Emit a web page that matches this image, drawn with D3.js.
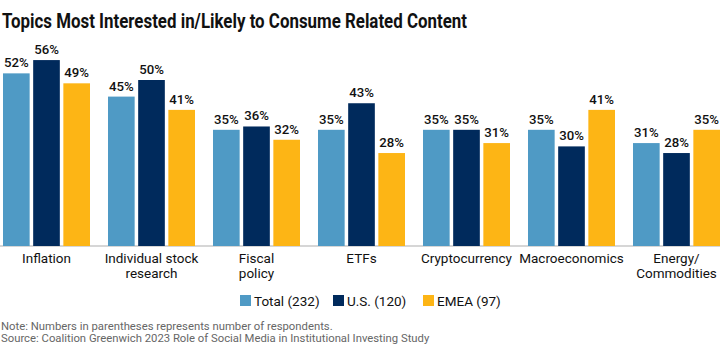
<!DOCTYPE html>
<html><head><meta charset="utf-8">
<script src="https://cdn.jsdelivr.net/npm/d3@7"></script>
<style>body{margin:0;background:#fff}svg{display:block}text{font-family:Roboto,"Noto Sans",sans-serif}</style>
</head><body><svg id="c" width="720" height="356"></svg>
<script>
const categories = [["Inflation"],["Individual stock","research"],["Fiscal","policy"],["ETFs"],["Cryptocurrency"],["Macroeconomics"],["Energy/","Commodities"]];
const seriesNames = ["Total (232)","U.S. (120)","EMEA (97)"];
const total = [52,45,35,35,35,35,31];
const us = [56,50,36,43,35,30,28];
const emea = [49,41,32,28,31,41,35];
const colors = ["#4f9ac5","#002a5c","#fdb515"];
const series = [total, us, emea];

const svg = d3.select("#c");
svg.append("text").attr("x",2).attr("y",28).attr("font-size",20.5).attr("font-weight",700)
  .attr("fill","#111").attr("textLength",465).attr("lengthAdjust","spacingAndGlyphs")
  .text("Topics Most Interested in/Likely to Consume Related Content");

const baseY = 246;
const y = d3.scaleLinear().domain([0,60]).range([baseY, baseY-199.2]);
const x0 = d3.scaleBand().domain(d3.range(categories.length)).range([3, 3+105*7-18]).paddingInner(18/105).paddingOuter(0);
const x1 = d3.scaleBand().domain(d3.range(3)).range([0, x0.bandwidth()]).paddingInner(3.5/30);

svg.append("line").attr("x1",0).attr("x2",720).attr("y1",baseY).attr("y2",baseY).attr("stroke","#c8c8c8").attr("stroke-width",1.5);

const g = svg.append("g");
categories.forEach((c,i)=>{
  series.forEach((s,j)=>{
    const v = s[i];
    g.append("rect").attr("x",x0(i)+x1(j)).attr("width",x1.bandwidth())
      .attr("y",y(v)).attr("height",baseY-y(v)).attr("fill",colors[j]);
    g.append("text").attr("x",x0(i)+x1(j)+x1.bandwidth()/2).attr("y",y(v)-6)
      .attr("text-anchor","middle").attr("font-size",13.2).attr("font-weight",500).attr("fill","#111").text(v+"%");
  });
  const t = svg.append("text").attr("text-anchor","middle").attr("font-size",13.5).attr("fill","#111")
    .attr("x",x0(i)+x0.bandwidth()/2);
  c.forEach((line,k)=>t.append("tspan").attr("x",x0(i)+x0.bandwidth()/2).attr("y",263+k*15).text(line));
});

const legX = [240,333,423];
seriesNames.forEach((n,j)=>{
  svg.append("rect").attr("x",legX[j]).attr("y",295).attr("width",11).attr("height",11).attr("fill",colors[j]);
  svg.append("text").attr("x",legX[j]+14).attr("y",305.5).attr("font-size",13.5).attr("fill","#111").text(n);
});

svg.append("text").attr("x",1).attr("y",330).attr("font-size",11.3).attr("fill","#666").text("Note: Numbers in parentheses represents number of respondents.");
svg.append("text").attr("x",1).attr("y",342).attr("font-size",11.3).attr("fill","#666").text("Source: Coalition Greenwich 2023 Role of Social Media in Institutional Investing Study");
</script></body></html>
